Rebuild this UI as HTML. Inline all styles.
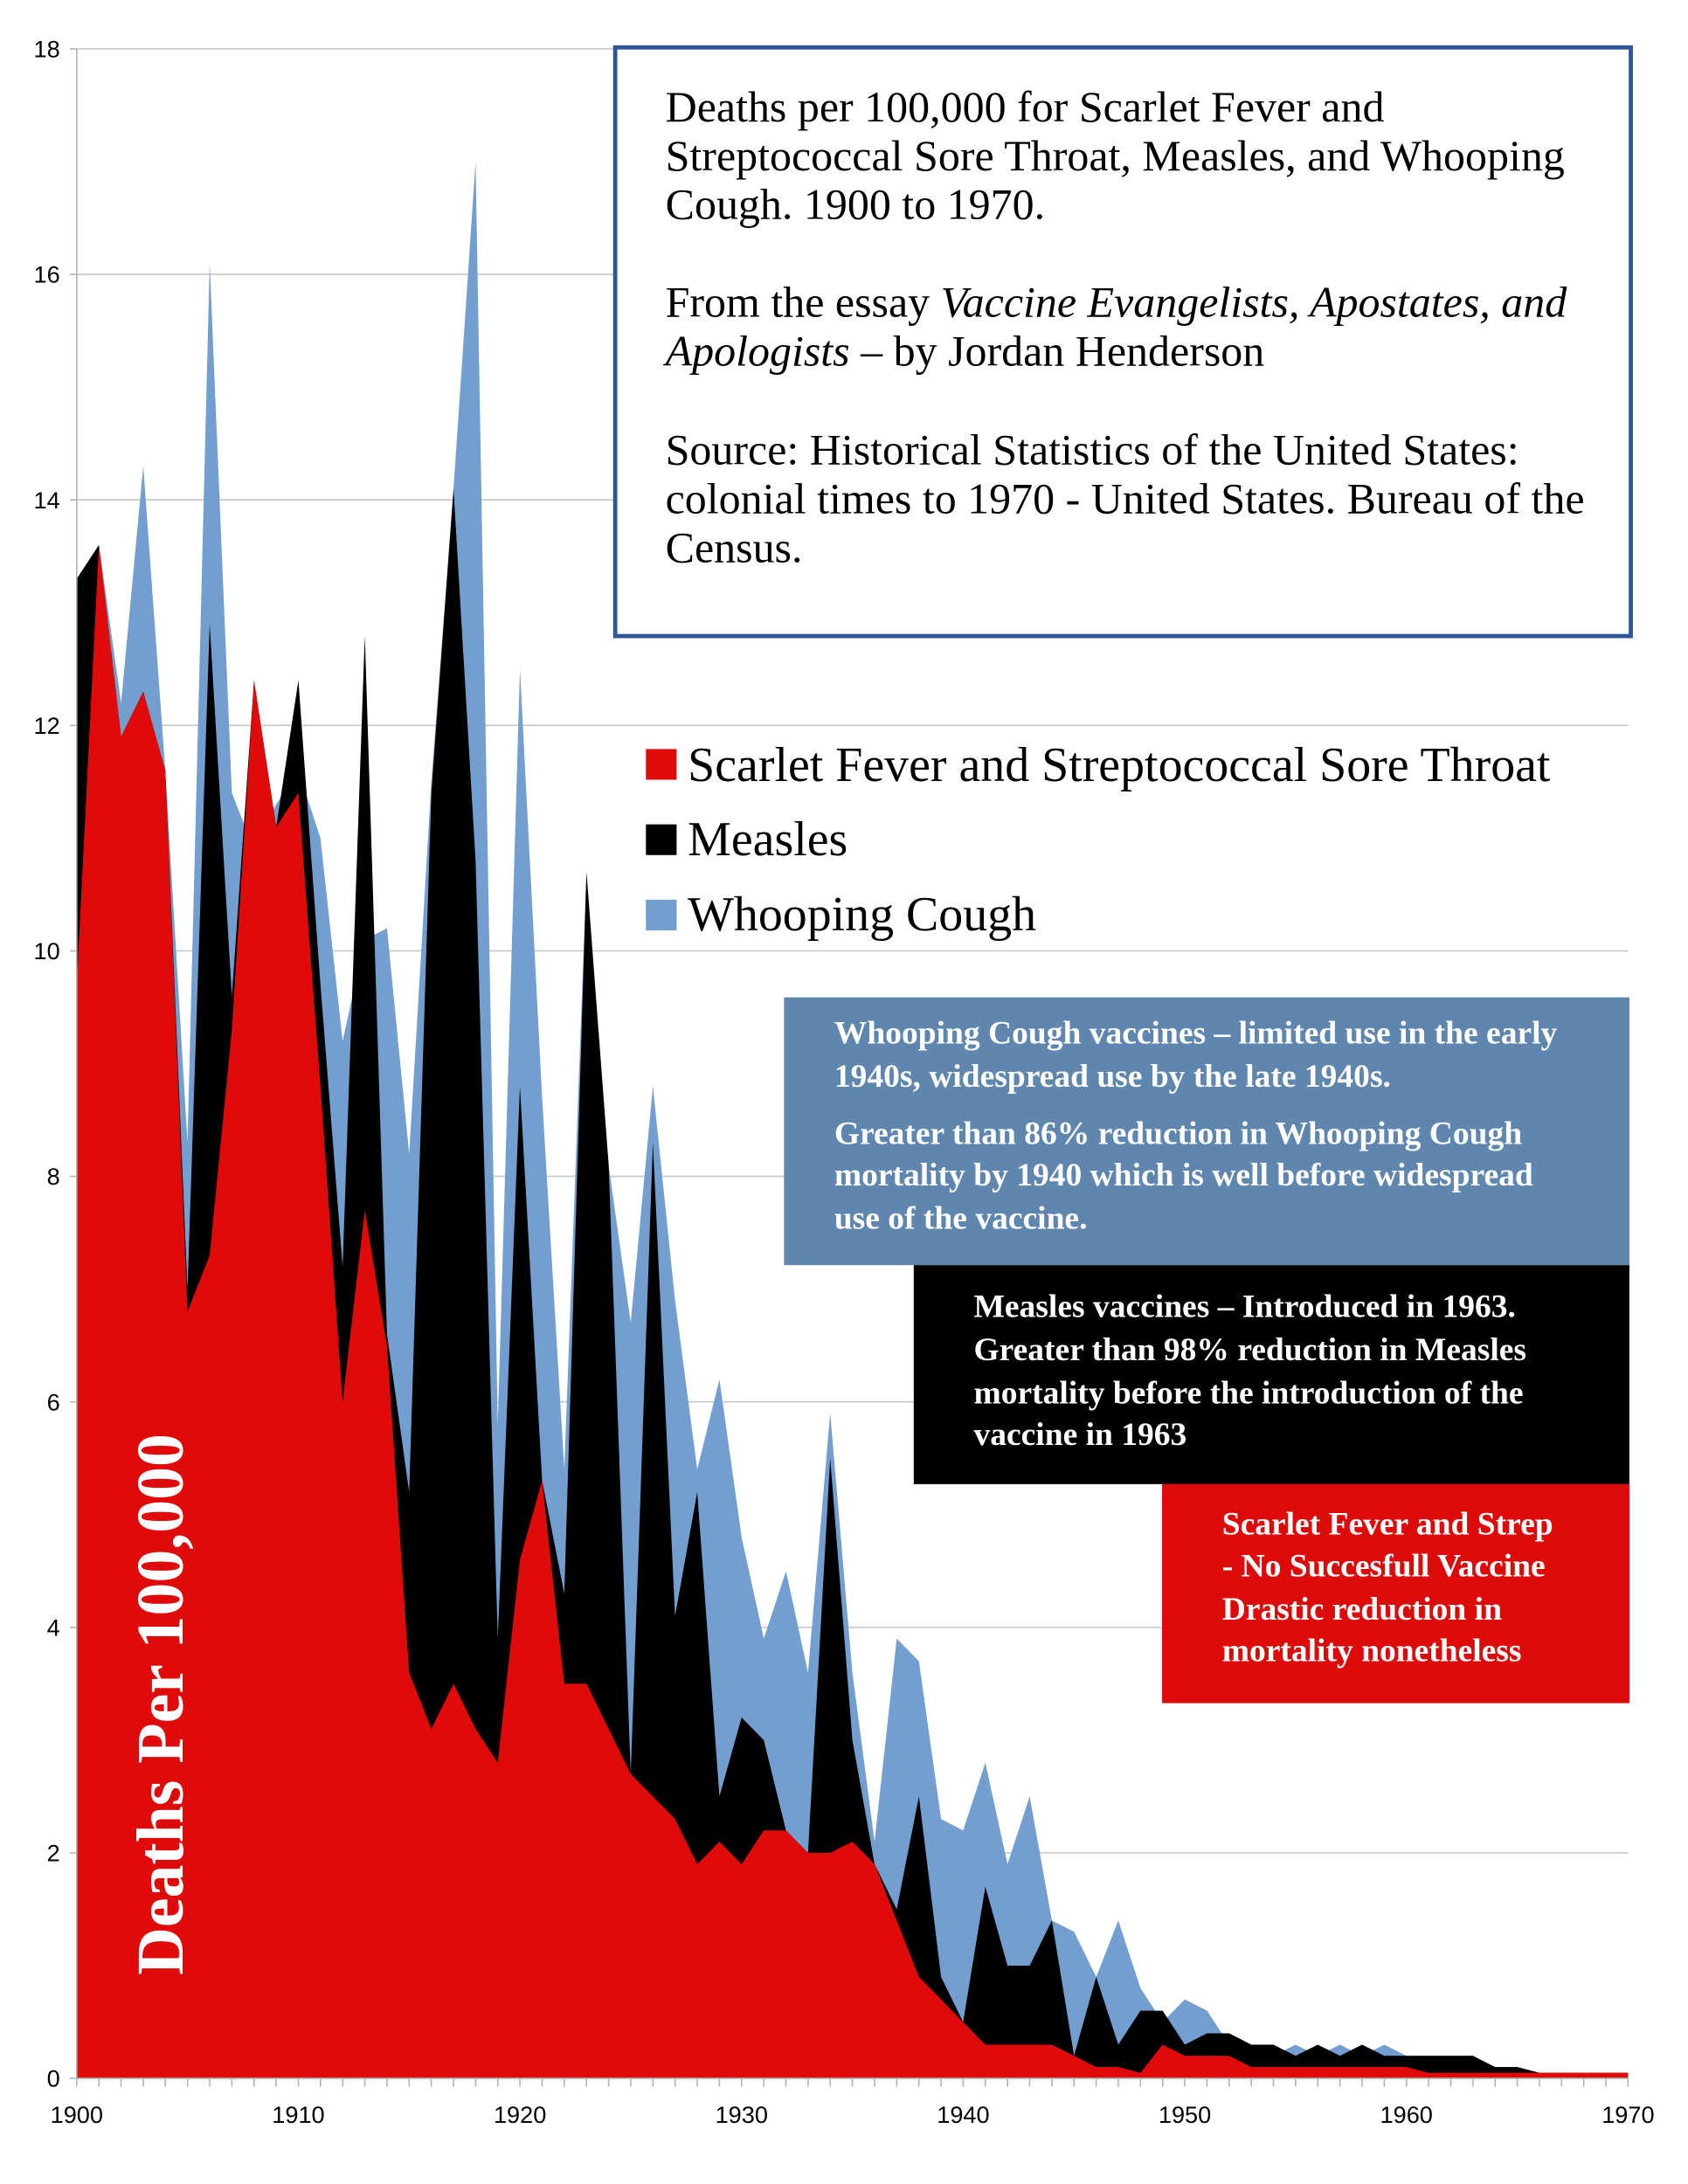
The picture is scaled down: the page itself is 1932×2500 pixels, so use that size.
<!DOCTYPE html>
<html><head><style>
html,body{margin:0;padding:0;background:#fff;}
svg{display:block;}
</style></head><body>
<svg id="s" width="1932" height="2500" viewBox="0 0 1932 2500" xmlns="http://www.w3.org/2000/svg">
<g id="g" transform="scale(1.5967)">
<g id="grid" stroke="#c8c8c8" stroke-width="1"></g>
<g id="areas"></g>
<line x1="55" y1="35" x2="55" y2="1490" stroke="#b3b3b3" stroke-width="1"/>
<line x1="55" y1="1490" x2="1167" y2="1490" stroke="#b3b3b3" stroke-width="1"/>
<g id="ticks" stroke="#b3b3b3" stroke-width="1"></g>
<g id="labels" font-family="Liberation Sans, sans-serif" font-size="17" fill="#000"></g>

<rect x="441" y="34" width="728" height="422" fill="#fff" stroke="#2e5597" stroke-width="3"/>
<g font-family="Liberation Serif, serif" font-size="31.3" fill="#000">
<text x="477" y="87">Deaths per 100,000 for Scarlet Fever and</text>
<text x="477" y="122">Streptococcal Sore Throat, Measles, and Whooping</text>
<text x="477" y="157">Cough. 1900 to 1970.</text>
<text x="477" y="227">From the essay <tspan font-style="italic">Vaccine Evangelists, Apostates, and</tspan></text>
<text x="477" y="262"><tspan font-style="italic">Apologists</tspan> – by Jordan Henderson</text>
<text x="477" y="333">Source: Historical Statistics of the United States:</text>
<text x="477" y="368">colonial times to 1970 - United States. Bureau of the</text>
<text x="477" y="403">Census.</text>
</g>

<g font-family="Liberation Serif, serif" font-size="35" fill="#000">
<rect x="463" y="537" width="22" height="22" fill="#df0b0b"/>
<text x="493" y="560">Scarlet Fever and Streptococcal Sore Throat</text>
<rect x="463" y="591" width="22" height="22" fill="#000"/>
<text x="493" y="613">Measles</text>
<rect x="463" y="645" width="22" height="22" fill="#729fcf"/>
<text x="493" y="667">Whooping Cough</text>
</g>

<rect x="562" y="715" width="606" height="192" fill="#5f86ae"/>
<rect x="655" y="907" width="513" height="157" fill="#000"/>
<rect x="833" y="1064" width="335" height="157" fill="#dd0a0a"/>
<g font-family="Liberation Serif, serif" font-size="23.5" font-weight="bold" fill="#fff">
<text x="598" y="748">Whooping Cough vaccines – limited use in the early</text>
<text x="598" y="779">1940s, widespread use by the late 1940s.</text>
<text x="598" y="820">Greater than 86% reduction in Whooping Cough</text>
<text x="598" y="850">mortality by 1940 which is well before widespread</text>
<text x="598" y="881">use of the vaccine.</text>
<text x="698" y="944">Measles vaccines – Introduced in 1963.</text>
<text x="698" y="975">Greater than 98% reduction in Measles</text>
<text x="698" y="1006">mortality before the introduction of the</text>
<text x="698" y="1036">vaccine in 1963</text>
<text x="876" y="1100">Scarlet Fever and Strep</text>
<text x="876" y="1130">- No Succesfull Vaccine</text>
<text x="876" y="1161">Drastic reduction in</text>
<text x="876" y="1191">mortality nonetheless</text>
</g>
<text transform="translate(131,1416) rotate(-90)" font-family="Liberation Serif, serif" font-size="47.5" font-weight="bold" fill="#fff">Deaths Per 100,000</text>
</g>
</svg>
<script>
var red=[9.7,13.6,11.9,12.3,11.6,6.8,7.3,9.3,12.4,11.1,11.4,8.8,6.0,7.7,6.5,3.6,3.1,3.5,3.1,2.8,4.6,5.3,3.5,3.5,3.1,2.7,2.5,2.3,1.9,2.1,1.9,2.2,2.2,2.0,2.0,2.1,1.9,1.4,0.9,0.7,0.5,0.3,0.3,0.3,0.3,0.2,0.1,0.1,0.05,0.3,0.2,0.2,0.2,0.1,0.1,0.1,0.1,0.1,0.1,0.1,0.1,0.05,0.05,0.05,0.05,0.05,0.05,0.05,0.05,0.05,0.05];
var blk=[13.3,13.6,11.9,12.3,11.6,7.0,12.9,9.6,12.4,11.1,12.4,9.7,7.2,12.8,6.6,5.2,11.4,14.1,10.8,3.9,8.8,5.3,4.3,10.7,8.1,2.7,8.3,4.1,5.2,2.5,3.2,3.0,2.2,2.0,5.5,3.0,1.9,1.5,2.5,0.9,0.5,1.7,1.0,1.0,1.4,0.2,0.9,0.3,0.6,0.6,0.3,0.4,0.4,0.3,0.3,0.2,0.3,0.2,0.3,0.2,0.2,0.2,0.2,0.2,0.1,0.1,0.05,0.05,0.05,0.05,0.05];
var blu=[13.3,13.6,12.2,14.3,11.6,8.3,16.1,11.4,10.9,11.3,11.6,11.0,9.2,10.1,10.2,8.2,11.5,14.1,17.0,5.8,12.5,8.7,5.4,10.7,8.1,6.7,8.8,6.9,5.4,6.2,4.8,3.9,4.5,3.6,5.9,3.6,2.1,3.9,3.7,2.3,2.2,2.8,1.9,2.5,1.4,1.3,0.9,1.4,0.8,0.5,0.7,0.6,0.3,0.3,0.2,0.3,0.2,0.3,0.2,0.3,0.2,0.2,0.2,0.2,0.1,0.1,0.05,0.05,0.05,0.05,0.05];
function X(i){return 55+15.886*i;}function Y(v){return 1490-80.83*v;}
function poly(a,c){var p=X(0)+','+Y(0);for(var i=0;i<a.length;i++)p+=' '+X(i).toFixed(1)+','+Y(a[i]).toFixed(1);p+=' '+X(70)+','+Y(0);return '<polygon points="'+p+'" fill="'+c+'"/>';}
document.getElementById('areas').innerHTML=poly(blu,'#729fcf')+poly(blk,'#000')+poly(red,'#df0b0b');
var g='',l='',t='';
for(var v=2;v<=18;v+=2){g+='<line x1="55" x2="1167" y1="'+Y(v)+'" y2="'+Y(v)+'"/>';}
for(var v=0;v<=18;v+=2){l+='<text x="43" y="'+(Y(v)+6)+'" text-anchor="end">'+v+'</text>';t+='<line x1="50" x2="55" y1="'+Y(v)+'" y2="'+Y(v)+'"/>';}
for(var i=0;i<=70;i++){t+='<line x1="'+X(i)+'" x2="'+X(i)+'" y1="1490" y2="1496"/>';if(i%10==0)l+='<text x="'+X(i)+'" y="1522" text-anchor="middle">'+(1900+i)+'</text>';}
document.getElementById('grid').innerHTML=g;document.getElementById('labels').innerHTML=l;document.getElementById('ticks').innerHTML=t;
</script>
</body></html>
